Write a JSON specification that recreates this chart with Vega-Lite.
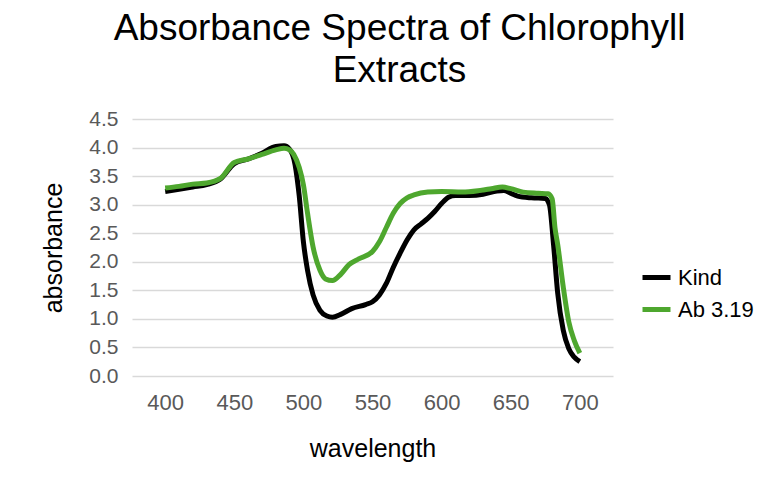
{
  "$schema": "https://vega.github.io/schema/vega-lite/v6.json",
  "autosize": {"type": "none"},
  "width": 481,
  "height": 257,
  "padding": {"left": 132, "top": 119, "right": 152, "bottom": 105},
  "background": "white",
  "config": {
    "font": "Liberation Sans",
    "view": {"stroke": null}
  },
  "title": {
    "text": ["Absorbance Spectra of Chlorophyll", "Extracts"],
    "fontSize": 37,
    "fontWeight": "normal",
    "color": "#000000",
    "lineHeight": 42,
    "anchor": "middle",
    "dx": 27,
    "offset": 18
  },
  "data": {
    "values": [
      {"wavelength": 400, "absorbance": 3.23, "series": "Kind"},
      {"wavelength": 410, "absorbance": 3.27, "series": "Kind"},
      {"wavelength": 420, "absorbance": 3.31, "series": "Kind"},
      {"wavelength": 430, "absorbance": 3.35, "series": "Kind"},
      {"wavelength": 440, "absorbance": 3.45, "series": "Kind"},
      {"wavelength": 450, "absorbance": 3.72, "series": "Kind"},
      {"wavelength": 460, "absorbance": 3.80, "series": "Kind"},
      {"wavelength": 470, "absorbance": 3.90, "series": "Kind"},
      {"wavelength": 480, "absorbance": 4.02, "series": "Kind"},
      {"wavelength": 486, "absorbance": 4.03, "series": "Kind"},
      {"wavelength": 490, "absorbance": 3.97, "series": "Kind"},
      {"wavelength": 494, "absorbance": 3.70, "series": "Kind"},
      {"wavelength": 497, "absorbance": 3.15, "series": "Kind"},
      {"wavelength": 500, "absorbance": 2.35, "series": "Kind"},
      {"wavelength": 503, "absorbance": 1.85, "series": "Kind"},
      {"wavelength": 507, "absorbance": 1.42, "series": "Kind"},
      {"wavelength": 512, "absorbance": 1.15, "series": "Kind"},
      {"wavelength": 517, "absorbance": 1.05, "series": "Kind"},
      {"wavelength": 521, "absorbance": 1.03, "series": "Kind"},
      {"wavelength": 527, "absorbance": 1.08, "series": "Kind"},
      {"wavelength": 535, "absorbance": 1.18, "series": "Kind"},
      {"wavelength": 545, "absorbance": 1.25, "series": "Kind"},
      {"wavelength": 550, "absorbance": 1.30, "series": "Kind"},
      {"wavelength": 555, "absorbance": 1.42, "series": "Kind"},
      {"wavelength": 560, "absorbance": 1.62, "series": "Kind"},
      {"wavelength": 565, "absorbance": 1.90, "series": "Kind"},
      {"wavelength": 570, "absorbance": 2.15, "series": "Kind"},
      {"wavelength": 575, "absorbance": 2.38, "series": "Kind"},
      {"wavelength": 580, "absorbance": 2.56, "series": "Kind"},
      {"wavelength": 585, "absorbance": 2.66, "series": "Kind"},
      {"wavelength": 590, "absorbance": 2.76, "series": "Kind"},
      {"wavelength": 595, "absorbance": 2.88, "series": "Kind"},
      {"wavelength": 600, "absorbance": 3.02, "series": "Kind"},
      {"wavelength": 605, "absorbance": 3.13, "series": "Kind"},
      {"wavelength": 610, "absorbance": 3.16, "series": "Kind"},
      {"wavelength": 620, "absorbance": 3.16, "series": "Kind"},
      {"wavelength": 630, "absorbance": 3.18, "series": "Kind"},
      {"wavelength": 640, "absorbance": 3.24, "series": "Kind"},
      {"wavelength": 645, "absorbance": 3.25, "series": "Kind"},
      {"wavelength": 650, "absorbance": 3.20, "series": "Kind"},
      {"wavelength": 655, "absorbance": 3.15, "series": "Kind"},
      {"wavelength": 665, "absorbance": 3.12, "series": "Kind"},
      {"wavelength": 675, "absorbance": 3.11, "series": "Kind"},
      {"wavelength": 678, "absorbance": 3.00, "series": "Kind"},
      {"wavelength": 681, "absorbance": 2.30, "series": "Kind"},
      {"wavelength": 684, "absorbance": 1.45, "series": "Kind"},
      {"wavelength": 688, "absorbance": 0.80, "series": "Kind"},
      {"wavelength": 692, "absorbance": 0.48, "series": "Kind"},
      {"wavelength": 696, "absorbance": 0.33, "series": "Kind"},
      {"wavelength": 700, "absorbance": 0.25, "series": "Kind"},
      {"wavelength": 400, "absorbance": 3.29, "series": "Ab 3.19"},
      {"wavelength": 410, "absorbance": 3.32, "series": "Ab 3.19"},
      {"wavelength": 420, "absorbance": 3.36, "series": "Ab 3.19"},
      {"wavelength": 430, "absorbance": 3.38, "series": "Ab 3.19"},
      {"wavelength": 440, "absorbance": 3.46, "series": "Ab 3.19"},
      {"wavelength": 450, "absorbance": 3.74, "series": "Ab 3.19"},
      {"wavelength": 460, "absorbance": 3.80, "series": "Ab 3.19"},
      {"wavelength": 470, "absorbance": 3.88, "series": "Ab 3.19"},
      {"wavelength": 480, "absorbance": 3.96, "series": "Ab 3.19"},
      {"wavelength": 486, "absorbance": 3.99, "series": "Ab 3.19"},
      {"wavelength": 490, "absorbance": 3.96, "series": "Ab 3.19"},
      {"wavelength": 493, "absorbance": 3.88, "series": "Ab 3.19"},
      {"wavelength": 497, "absorbance": 3.65, "series": "Ab 3.19"},
      {"wavelength": 500, "absorbance": 3.35, "series": "Ab 3.19"},
      {"wavelength": 503, "absorbance": 2.85, "series": "Ab 3.19"},
      {"wavelength": 507, "absorbance": 2.26, "series": "Ab 3.19"},
      {"wavelength": 512, "absorbance": 1.85, "series": "Ab 3.19"},
      {"wavelength": 516, "absorbance": 1.70, "series": "Ab 3.19"},
      {"wavelength": 521, "absorbance": 1.67, "series": "Ab 3.19"},
      {"wavelength": 527, "absorbance": 1.78, "series": "Ab 3.19"},
      {"wavelength": 533, "absorbance": 1.95, "series": "Ab 3.19"},
      {"wavelength": 540, "absorbance": 2.05, "series": "Ab 3.19"},
      {"wavelength": 550, "absorbance": 2.18, "series": "Ab 3.19"},
      {"wavelength": 555, "absorbance": 2.35, "series": "Ab 3.19"},
      {"wavelength": 560, "absorbance": 2.60, "series": "Ab 3.19"},
      {"wavelength": 565, "absorbance": 2.85, "series": "Ab 3.19"},
      {"wavelength": 570, "absorbance": 3.02, "series": "Ab 3.19"},
      {"wavelength": 575, "absorbance": 3.12, "series": "Ab 3.19"},
      {"wavelength": 580, "absorbance": 3.17, "series": "Ab 3.19"},
      {"wavelength": 590, "absorbance": 3.22, "series": "Ab 3.19"},
      {"wavelength": 600, "absorbance": 3.23, "series": "Ab 3.19"},
      {"wavelength": 615, "absorbance": 3.22, "series": "Ab 3.19"},
      {"wavelength": 628, "absorbance": 3.25, "series": "Ab 3.19"},
      {"wavelength": 636, "absorbance": 3.28, "series": "Ab 3.19"},
      {"wavelength": 644, "absorbance": 3.31, "series": "Ab 3.19"},
      {"wavelength": 650, "absorbance": 3.28, "series": "Ab 3.19"},
      {"wavelength": 659, "absorbance": 3.22, "series": "Ab 3.19"},
      {"wavelength": 670, "absorbance": 3.20, "series": "Ab 3.19"},
      {"wavelength": 677, "absorbance": 3.19, "series": "Ab 3.19"},
      {"wavelength": 680, "absorbance": 3.10, "series": "Ab 3.19"},
      {"wavelength": 682, "absorbance": 2.60, "series": "Ab 3.19"},
      {"wavelength": 684, "absorbance": 2.30, "series": "Ab 3.19"},
      {"wavelength": 688, "absorbance": 1.56, "series": "Ab 3.19"},
      {"wavelength": 692, "absorbance": 0.95, "series": "Ab 3.19"},
      {"wavelength": 696, "absorbance": 0.62, "series": "Ab 3.19"},
      {"wavelength": 700, "absorbance": 0.40, "series": "Ab 3.19"}
    ]
  },
  "mark": {"type": "line", "interpolate": "monotone", "strokeWidth": 5, "strokeCap": "butt", "strokeJoin": "round"},
  "encoding": {
    "x": {
      "field": "wavelength",
      "type": "quantitative",
      "scale": {"domain": [376, 724], "nice": false, "zero": false},
      "axis": {
        "values": [400, 450, 500, 550, 600, 650, 700],
        "grid": false,
        "domain": false,
        "ticks": false,
        "labelFontSize": 22,
        "labelColor": "#595959",
        "labelPadding": 16,
        "title": "wavelength",
        "titleFontSize": 25,
        "titleFontWeight": "normal",
        "titleColor": "#000000",
        "titlePadding": 23
      }
    },
    "y": {
      "field": "absorbance",
      "type": "quantitative",
      "scale": {"domain": [0, 4.5], "nice": false},
      "axis": {
        "values": [0, 0.5, 1, 1.5, 2, 2.5, 3, 3.5, 4, 4.5],
        "format": ".1f",
        "grid": true,
        "gridColor": "#d9d9d9",
        "gridWidth": 1.5,
        "domain": false,
        "ticks": false,
        "labelFontSize": 21,
        "labelColor": "#595959",
        "labelPadding": 14,
        "title": "absorbance",
        "titleFontSize": 25,
        "titleFontWeight": "normal",
        "titleColor": "#000000",
        "titlePadding": 22
      }
    },
    "color": {
      "field": "series",
      "type": "nominal",
      "scale": {"domain": ["Kind", "Ab 3.19"], "range": ["#000000", "#4ea72e"]},
      "legend": {
        "title": null,
        "orient": "none",
        "legendX": 508,
        "legendY": 142,
        "symbolType": "stroke",
        "symbolSize": 784,
        "symbolStrokeWidth": 5,
        "labelFontSize": 22,
        "labelColor": "#000000",
        "labelOffset": 5,
        "rowPadding": 4
      }
    }
  }
}
